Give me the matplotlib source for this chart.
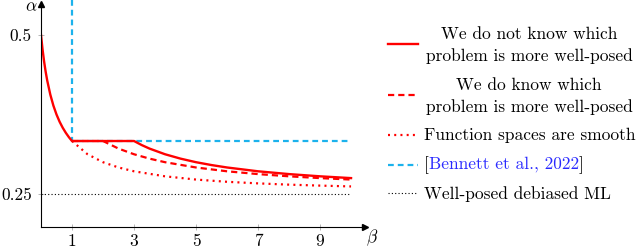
import matplotlib
matplotlib.use("Agg")
import matplotlib.pyplot as plt
from matplotlib.lines import Line2D
from matplotlib.offsetbox import TextArea, HPacker, AnnotationBbox

plt.rcParams['font.family'] = 'serif'
plt.rcParams['font.serif'] = ['cmr10']
plt.rcParams['mathtext.fontset'] = 'cm'
plt.rcParams['axes.unicode_minus'] = False

# Werte
beta_solid = [0, 0.05, 0.1, 0.15, 0.2, 0.3, 0.4, 0.5, 0.6, 0.7, 0.8, 0.9, 1.0,
              3.0, 3.25, 3.5, 4, 4.5, 5, 5.5, 6, 7, 8, 9, 10]
alpha_solid = [0.5, 0.4773, 0.4583, 0.4423, 0.4286, 0.4063, 0.3889, 0.375, 0.3636,
               0.3542, 0.3462, 0.3393, 0.3333,
               0.3333, 0.3269, 0.3214, 0.3125, 0.3056, 0.30, 0.2955, 0.2917,
               0.2857, 0.2813, 0.2778, 0.275]

beta_dashed = [1, 2, 2.5, 3, 3.5, 4, 5, 6, 7, 8, 9, 10]
alpha_dashed = [0.3333, 0.3333, 0.3214, 0.3125, 0.3056, 0.30, 0.2917, 0.2857,
                0.2813, 0.2778, 0.275, 0.2727]

beta_dotted = [1, 1.5, 2, 2.5, 3, 4, 5, 6, 7, 8, 9, 10]
alpha_dotted = [0.3333, 0.3125, 0.30, 0.2917, 0.2857, 0.2778, 0.2727, 0.2692,
                0.2667, 0.2647, 0.2632, 0.2619]

beta_bennett = [1, 1, 10]
alpha_bennett = [0.555, 0.3333, 0.3333]

beta_ml = [0, 10]
alpha_ml = [0.25, 0.25]

xticks = [1, 3, 5, 7, 9]
yticks = [0.25, 0.5]
ytick_labels = ['0.25', '0.5']

RED = '#ff0000'
CYAN = '#1cb2ec'
W, H = 640, 249
fs = 12.5

fig = plt.figure(figsize=(6.4, 2.49), dpi=100)
ax = fig.add_axes([41 / W, 1 - 226.7 / H, (365 - 41) / W, (226.7 - 4) / H])
ax.set_xlim(0, 10.45)
ax.set_ylim(0.1986, 0.5487)

ax.plot(beta_ml, alpha_ml, color='black', lw=0.8, dashes=(1, 2))
ax.plot(beta_dotted, alpha_dotted, color=RED, lw=1.6, dashes=(0.9, 1.9))
ax.plot(beta_dashed, alpha_dashed, color=RED, lw=1.6, dashes=(2.8, 1.8))
ax.plot(beta_bennett, alpha_bennett, color=CYAN, lw=1.6, dashes=(2.6, 1.8), clip_on=False)
ax.plot(beta_solid, alpha_solid, color=RED, lw=1.7)

# Achsen im pgfplots-Stil
for s in ['top', 'right']:
    ax.spines[s].set_visible(False)
for s in ['left', 'bottom']:
    ax.spines[s].set_linewidth(0.8)
ax.plot(1, 0, '>k', ms=4, transform=ax.transAxes, clip_on=False)
ax.plot(0, 1, '^k', ms=4, transform=ax.transAxes, clip_on=False)

ax.set_xticks(xticks)
ax.set_xticklabels([str(t) for t in xticks])
ax.set_yticks(yticks)
ax.set_yticklabels(ytick_labels)
ax.tick_params(direction='inout', length=5, width=0.5, color='#999999',
               labelsize=fs, pad=4)
ax.tick_params(axis='x', pad=2.5)

fig.text(38 / W, 1 - 7 / H, r'$\alpha$', fontsize=fs, ha='right', va='center')
fig.text(372 / W, 1 - 238 / H, r'$\beta$', fontsize=fs, ha='center', va='center')

# Legende von Hand
hx0, hx1, tx = 388, 418, 424
handles = [
    (44, dict(color=RED, lw=1.7)),
    (95.5, dict(color=RED, lw=1.6, dashes=(2.8, 1.8))),
    (135, dict(color=RED, lw=1.6, dashes=(0.9, 1.9))),
    (165, dict(color=CYAN, lw=1.6, dashes=(2.6, 1.8))),
    (193, dict(color='black', lw=0.8, dashes=(1, 2))),
]
for y, kw in handles:
    fig.add_artist(Line2D([hx0 / W, hx1 / W], [1 - y / H, 1 - y / H], **kw))

cx = 529
two_line = [(39.3, 'We do not know which'), (61, 'problem is more well-posed'),
            (90, 'We do know which'), (111.5, 'problem is more well-posed')]
for y, t in two_line:
    fig.text(cx / W, 1 - y / H, t, fontsize=fs, ha='center', va='baseline')
fig.text(tx / W, 1 - 140 / H, 'Function spaces are smooth', fontsize=fs, va='baseline')
fig.text(tx / W, 1 - 199.5 / H, 'Well-posed debiased ML', fontsize=fs, va='baseline')

cite = HPacker(children=[
    TextArea('[', textprops=dict(fontsize=fs, color='black')),
    TextArea('Bennett et al., 2022', textprops=dict(fontsize=fs, color='#2a2aff')),
    TextArea(']', textprops=dict(fontsize=fs, color='black')),
], align='baseline', pad=0, sep=0)
fig.add_artist(AnnotationBbox(cite, (tx / W, 1 - 165 / H), xycoords='figure fraction',
                              box_alignment=(0, 0.5), frameon=False, pad=0))

fig.savefig('out.png', dpi=100)
